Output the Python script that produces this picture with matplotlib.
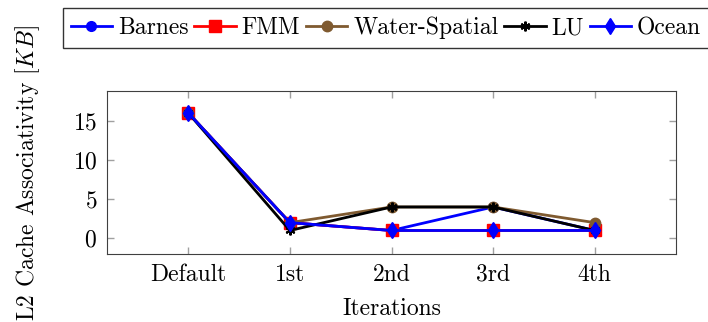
import numpy as np
import matplotlib.pyplot as plt

plt.rcParams['font.family'] = 'cmr10'
plt.rcParams['mathtext.fontset'] = 'cm'
plt.rcParams['axes.formatter.use_mathtext'] = True

iterations = ['Default', '1st', '2nd', '3rd', '4th']
barnes = [16, 2, 1, 4, 1]
fmm = [16, 2, 1, 1, 1]
water_spatial = [16, 2, 4, 4, 2]
lu = [16, 1, 4, 4, 1]
ocean = [16, 2, 1, 1, 1]

x = np.arange(len(iterations))
fs = 17

fig = plt.figure(figsize=(7.08, 3.22), dpi=100)
ax = fig.add_axes([107/708, 1 - 254/322, (676-107)/708, (254-91)/322])

# drawn in legend order, later series on top
ax.plot(x, barnes, color='blue', marker='o', ms=7, lw=2, label='Barnes')
ax.plot(x, fmm, color='red', marker='s', ms=8, lw=2, label='FMM')
ax.plot(x, water_spatial, color='#7f5a30', marker='o', ms=7.5, lw=2, label='Water-Spatial')
ax.plot(x, lu, color='black', marker=(6, 2, 0), ms=7, mew=1.5, lw=2, label='LU')
ax.plot(x, ocean, color='blue', marker='d', ms=8.5, lw=2, label='Ocean')

ax.set_xlim(-0.8, 4.8)
ax.set_ylim(-2, 18.8)
ax.set_xticks(x)
ax.set_xticklabels(iterations)
ax.set_yticks([0, 5, 10, 15])
ax.tick_params(direction='in', color='#a0a0a0', length=5, width=1,
               top=True, right=True, labelsize=fs, pad=7)
for s in ax.spines.values():
    s.set_color('#404040')
ax.set_xlabel('Iterations', fontsize=fs, labelpad=9)
ax.set_ylabel(r'L2 Cache Associativity $[KB]$', fontsize=fs, labelpad=22)

leg = fig.legend(loc='center', bbox_to_anchor=(386/708, 1 - 28/322), ncol=5,
                 fontsize=fs, frameon=True, fancybox=False, edgecolor='black',
                 handlelength=1.75, handletextpad=0.25, columnspacing=0.25,
                 borderpad=0.35, borderaxespad=0)
leg.get_frame().set_linewidth(1)

fig.savefig('out.png', dpi=100)
